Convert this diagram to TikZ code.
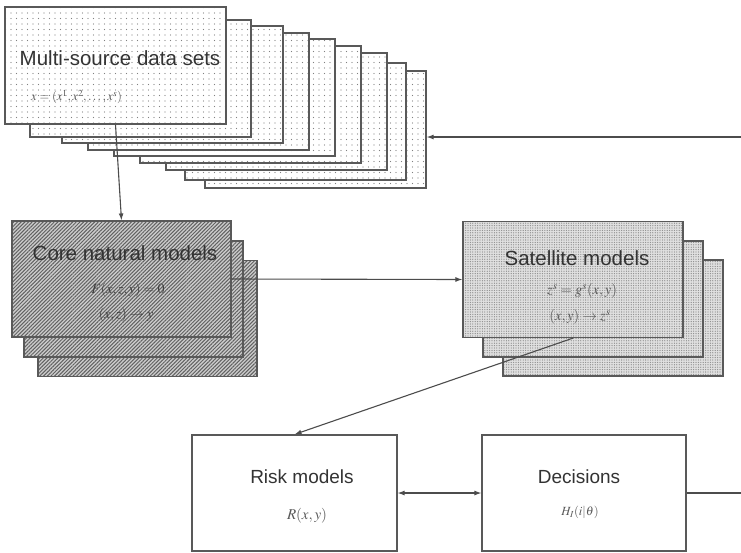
\documentclass[tikz,border=0pt]{standalone}
\usepackage{mathptmx}
\usepackage[no-math]{fontspec}
\setmainfont{Liberation Sans}
\usetikzlibrary{arrows.meta,patterns.meta}
\begin{document}
\begin{tikzpicture}[x=1pt,y=-1pt,
  edge/.style={draw=black!70, line width=1.1pt},
  arr/.style={edge, -{Latex[length=7pt,width=5pt]}},
  dblarr/.style={edge, {Latex[length=7pt,width=5pt]}-{Latex[length=7pt,width=5pt]}},
  card/.style={draw=black!65, line width=1.2pt, inner sep=0pt, minimum width=#1},
  card/.default=221pt,
  datacard/.style={card, minimum height=117pt, preaction={fill=white},
    pattern={Dots[radius=0.6pt,distance=5.5pt]}, pattern color=black!50},
  corecard/.style={card=219pt, minimum height=116pt, preaction={fill=black!20},
    pattern={Lines[angle=45,distance=2.6pt,line width=1pt]}, pattern color=black!62},
  satcard/.style={card=220pt, minimum height=116pt, preaction={fill=black!12},
    pattern={Dots[radius=0.65pt,distance=2.4pt]}, pattern color=black!45},
  plaincard/.style={card=205pt, minimum height=116pt, fill=white},
  title/.style={text=black!80, inner sep=0pt, font=\fontsize{20.5}{24}\selectfont},
  subtitle/.style={text=black!80, inner sep=0pt, font=\fontsize{19}{22}\selectfont},
  formula/.style={text=black!65, inner sep=0pt, font=\fontsize{#1}{16}\selectfont},
  formula/.default=13,
  ]
\useasboundingbox (0,0) rectangle (741,552);

% stack of multi-source data sets, back to front
\node[datacard] (d9) at (315.5,129.5) {};
\node[datacard] (d8) at (295.5,121.5) {};
\node[datacard] (d7) at (276.5,111.5) {};
\node[datacard] (d6) at (250.5,104.5) {};
\node[datacard] (d5) at (224.5,97.5) {};
\node[datacard] (d4) at (198.5,91.5) {};
\node[datacard] (d3) at (172.5,84.5) {};
\node[datacard] (d2) at (140.5,78.5) {};
\node[datacard] (d1) at (115.5,65.5) {};
\node[title] (dtitle) at (120,58) {Multi-source data sets};
\node[formula=12.5, anchor=west] (dform) at (31,97) {$x=(x^1,x^2,\dots,x^s)$};

% core natural models
\node[corecard] (c3) at (147.5,318.5) {};
\node[corecard] (c2) at (133.5,299) {};
\node[corecard] (c1) at (121.5,279) {};
\node[title] (ctitle) at (125,253) {Core natural models};
\node[formula=14, text=black!75] (cform1) at (128,290) {$F(x,z,y)=0$};
\node[formula=14, text=black!75] (cform2) at (126,315) {$(x,z)\rightarrow y$};

% satellite models
\node[satcard] (s3) at (613,318) {};
\node[satcard] (s2) at (593,299) {};
\node[satcard] (s1) at (573,279.5) {};
\node[title] (stitle) at (577,258) {Satellite models};
\node[formula=14.5] (sform1) at (582,291) {$z^s=g^s(x,y)$};
\node[formula=14.5] (sform2) at (580,317) {$(x,y)\rightarrow z^s$};

% risk models and decisions
\node[plaincard] (risk) at (294.5,493) {};
\node[subtitle] (rtitle) at (302,477) {Risk models};
\node[formula=15] (rform) at (307,516) {$R(x,y)$};
\node[plaincard, card=204pt] (dec) at (584,493) {};
\node[subtitle] (dtitle2) at (579,477) {Decisions};
\node[formula=12.5] (decform) at (580,512) {$H_I(i|\theta)$};

% free ends at the right margin
\coordinate (fbin) at (741,137);
\coordinate (rmargin) at (741,0);

% connectors
\draw[arr] (fbin) -- (fbin -| d9.east);
\draw[arr] (d1.south) -- (c1.north);
\draw[arr] (c1.east) -- (s1.west);
\draw[arr] (s1.south) -- (risk.north);
\draw[dblarr] (risk.east) -- (dec.west);
\draw[edge] (dec.east) -- (dec.east -| rmargin);
\end{tikzpicture}
\end{document}
